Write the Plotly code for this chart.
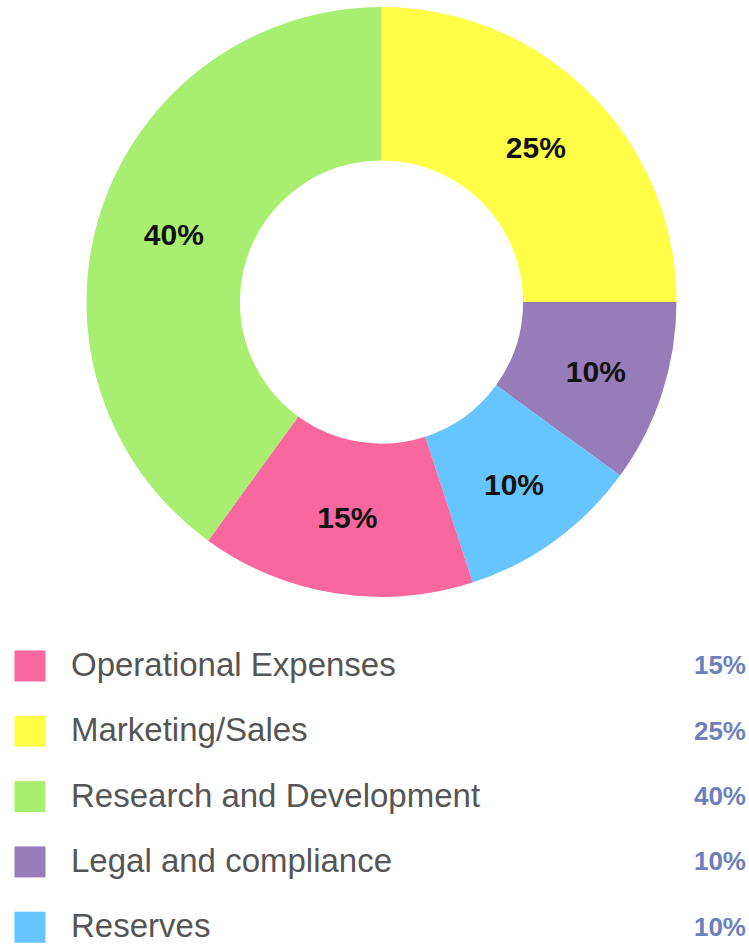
import plotly.graph_objects as go

# Data
categories = ["Operational Expenses", "Marketing/Sales", "Research and Development",
              "Legal and compliance", "Reserves"]
values = [15, 25, 40, 10, 10]
colors = ["#f9679f", "#ffff47", "#a8ee70", "#977cba", "#66c5ff"]
# clockwise order of slices starting at 12 o'clock
pie_order = [1, 3, 4, 0, 2]

W, H = 749, 944
CX, CY, R = 381.5, 302, 295

fig = go.Figure()

fig.add_trace(go.Pie(
    labels=[categories[i] for i in pie_order],
    values=[values[i] for i in pie_order],
    marker=dict(colors=[colors[i] for i in pie_order], line=dict(width=0)),
    hole=0.48,
    sort=False,
    direction="clockwise",
    rotation=0,
    texttemplate="%{value}%",
    textposition="inside",
    insidetextorientation="horizontal",
    textfont=dict(family="Liberation Sans, Arial", size=30, color="#111111", weight="bold"),
    domain=dict(x=[(CX - R) / W, (CX + R) / W], y=[1 - (CY + R) / H, 1 - (CY - R) / H]),
    showlegend=False,
    hoverinfo="label+percent",
))

rows = list(range(len(categories)))

# legend squares
fig.add_trace(go.Scatter(
    x=[30] * len(categories), y=rows, mode="markers",
    marker=dict(symbol="square", size=31, color=colors, line=dict(width=0)),
    showlegend=False, hoverinfo="skip", xaxis="x", yaxis="y",
))
# legend labels
fig.add_trace(go.Scatter(
    x=[71] * len(categories), y=[r + 0.03 for r in rows], mode="text", text=categories,
    textposition="middle right",
    textfont=dict(family="Liberation Sans, Arial", size=33, color="#555555"),
    showlegend=False, hoverinfo="skip", xaxis="x", yaxis="y",
))
# legend percentages
fig.add_trace(go.Scatter(
    x=[746] * len(categories), y=[r + 0.03 for r in rows], mode="text",
    text=[f"{v}%" for v in values],
    textposition="middle left",
    textfont=dict(family="Liberation Sans, Arial", size=26, color="#6d7fbd", weight="bold"),
    showlegend=False, hoverinfo="skip", xaxis="x", yaxis="y",
))

fig.update_layout(
    width=W, height=H,
    margin=dict(l=0, r=0, t=0, b=0),
    paper_bgcolor="white", plot_bgcolor="white",
    xaxis=dict(domain=[0, 1], range=[0, W], visible=False, fixedrange=True),
    yaxis=dict(domain=[0, 0.33], range=[4.257, -0.513], visible=False, fixedrange=True),
)

fig.write_html(
    "out.html",
    config={"displayModeBar": False},
    post_script="document.body.style.margin='0';document.body.style.overflow='hidden';",
)
